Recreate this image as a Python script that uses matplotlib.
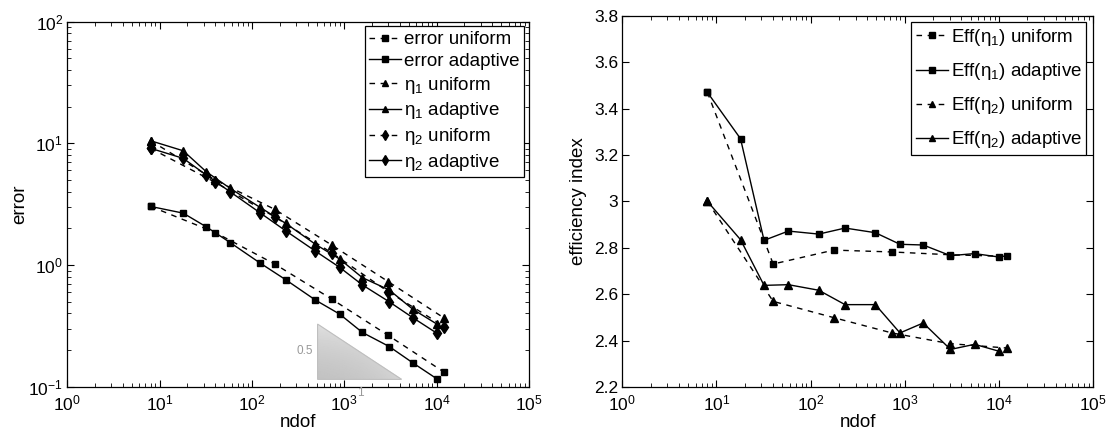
import numpy as np
import matplotlib
matplotlib.use("Agg")
import matplotlib.pyplot as plt
from matplotlib.patches import Polygon
from matplotlib.ticker import FuncFormatter, LogLocator, NullFormatter

plt.rcParams['font.family'] = ['Liberation Sans', 'DejaVu Sans']
plt.rcParams['mathtext.default'] = 'regular'
plt.rcParams['font.size'] = 12

# degrees of freedom
ndof_uniform = [8, 40, 176, 730, 2990, 12150]
ndof_adaptive = [8, 18, 32, 58, 122, 232, 487, 890, 1570, 3060, 5520, 10060]

# left panel: error and estimators
err_uniform = [3.03, 1.85, 1.02, 0.525, 0.264, 0.131]
err_adaptive = [3.03, 2.67, 2.06, 1.53, 1.04, 0.757, 0.515, 0.395, 0.279, 0.214, 0.157, 0.116]
eta1_uniform = [10.5, 4.99, 2.87, 1.46, 0.73, 0.365]
eta1_adaptive = [10.5, 8.69, 5.84, 4.27, 2.98, 2.20, 1.48, 1.12, 0.787, 0.624, 0.433, 0.327]
eta2_uniform = [9.1, 4.78, 2.49, 1.26, 0.604, 0.311]
eta2_adaptive = [9.1, 7.53, 5.49, 4.0, 2.69, 1.91, 1.30, 0.957, 0.686, 0.499, 0.369, 0.275]

# right panel: efficiency indices
eff1_uniform = [3.47, 2.73, 2.79, 2.782, 2.77, 2.763]
eff1_adaptive = [3.47, 3.27, 2.832, 2.872, 2.859, 2.885, 2.865, 2.815, 2.812, 2.766, 2.775, 2.760]
eff2_uniform = [3.0, 2.569, 2.499, 2.433, 2.387, 2.368]
eff2_adaptive = [3.0, 2.835, 2.638, 2.641, 2.617, 2.555, 2.555, 2.433, 2.476, 2.362, 2.384, 2.354]

fig = plt.figure(figsize=(11.07, 4.33), dpi=100)
ax1 = fig.add_axes([0.0608, 0.1069, 0.4171, 0.8430])
ax2 = fig.add_axes([0.5622, 0.1062, 0.4252, 0.8575])

dash = (0, (4, 4))
kw = dict(color='k', lw=1.0)

ax1.loglog(ndof_uniform, err_uniform, ls=dash, marker='s', ms=5, label='error uniform', **kw)
ax1.loglog(ndof_adaptive, err_adaptive, ls='-', marker='s', ms=5, label='error adaptive', **kw)
ax1.loglog(ndof_uniform, eta1_uniform, ls=dash, marker='^', ms=6, label='η$_1$ uniform', **kw)
ax1.loglog(ndof_adaptive, eta1_adaptive, ls='-', marker='^', ms=6, label='η$_1$ adaptive', **kw)
ax1.loglog(ndof_uniform, eta2_uniform, ls=dash, marker='d', ms=6, label='η$_2$ uniform', **kw)
ax1.loglog(ndof_adaptive, eta2_adaptive, ls='-', marker='d', ms=6, label='η$_2$ adaptive', **kw)

# slope triangle with gray gradient
tx0, tx1 = 10 ** 2.71, 10 ** 3.62
ty0, ty1 = 10 ** -0.94, 10 ** -0.485
tri = Polygon([[tx0, ty1], [tx0, ty0], [tx1, ty0]], closed=True,
              facecolor='none', edgecolor='0.75', lw=0.8, zorder=1)
ax1.add_patch(tri)
gx, gy = np.meshgrid(np.linspace(0, 1, 200), np.linspace(0, 1, 200))
grad = 0.76 + 0.12 * (1 - gy) + 0.08 * gx
img = ax1.imshow(grad, extent=(tx0, tx1, ty0, ty1), origin='upper', cmap='gray',
                 vmin=0, vmax=1, aspect='auto', zorder=0.5, interpolation='bilinear')
img.set_clip_path(tri)
ax1.text(10 ** 2.66, 10 ** -0.71, '0.5', color='0.6', fontsize=8.5, ha='right', va='center')
ax1.text(10 ** 3.17, 10 ** -1.005, '1', color='0.6', fontsize=8.5, ha='center', va='top',
         clip_on=False)

ax1.set_xlim(1, 1e5)
ax1.set_ylim(0.1, 100)
ax1.set_xlabel('ndof', fontsize=13.5, labelpad=0)
ax1.set_ylabel('error', fontsize=13.5, labelpad=0)

ax2.semilogx(ndof_uniform, eff1_uniform, ls=dash, marker='s', ms=5, label='Eff(η$_1$) uniform', **kw)
ax2.semilogx(ndof_adaptive, eff1_adaptive, ls='-', marker='s', ms=5, label='Eff(η$_1$) adaptive', **kw)
ax2.semilogx(ndof_uniform, eff2_uniform, ls=dash, marker='^', ms=6, label='Eff(η$_2$) uniform', **kw)
ax2.semilogx(ndof_adaptive, eff2_adaptive, ls='-', marker='^', ms=6, label='Eff(η$_2$) adaptive', **kw)
ax2.set_xlim(1, 1e5)
ax2.set_ylim(2.2, 3.8)
ax2.set_yticks(np.arange(2.2, 3.81, 0.2))
ax2.yaxis.set_major_formatter(FuncFormatter(lambda v, p: ('%.1f' % v).rstrip('0').rstrip('.')))
ax2.set_xlabel('ndof', fontsize=13.5, labelpad=0)
ax2.set_ylabel('efficiency index', fontsize=13.5, labelpad=5)

for ax in (ax1, ax2):
    ax.xaxis.set_major_locator(LogLocator(base=10, numticks=10))
    ax.xaxis.set_minor_locator(LogLocator(base=10, subs=np.arange(2, 10), numticks=100))
    ax.xaxis.set_minor_formatter(NullFormatter())
    ax.tick_params(which='both', direction='in', top=True, right=True, labelsize=12.5)
    ax.tick_params(which='major', length=5, width=0.8, pad=3)
    ax.tick_params(axis='x', which='major', pad=5)
    ax.tick_params(which='minor', length=3, width=0.6)
    for s in ax.spines.values():
        s.set_linewidth(0.9)

leg1 = ax1.legend(loc='upper right', fontsize=13.5, handlelength=1.7, handletextpad=0.15,
                  labelspacing=0.25, borderpad=0.25, borderaxespad=0.25, fancybox=False,
                  edgecolor='k', framealpha=1, markerscale=0.8)
leg2 = ax2.legend(loc='upper right', fontsize=13.5, handlelength=1.7, handletextpad=0.15,
                  labelspacing=0.7, borderpad=0.25, borderaxespad=0.35, fancybox=False,
                  edgecolor='k', framealpha=1, markerscale=0.8)
for leg in (leg1, leg2):
    leg.get_frame().set_linewidth(0.9)

fig.savefig('out.png', dpi=100)
